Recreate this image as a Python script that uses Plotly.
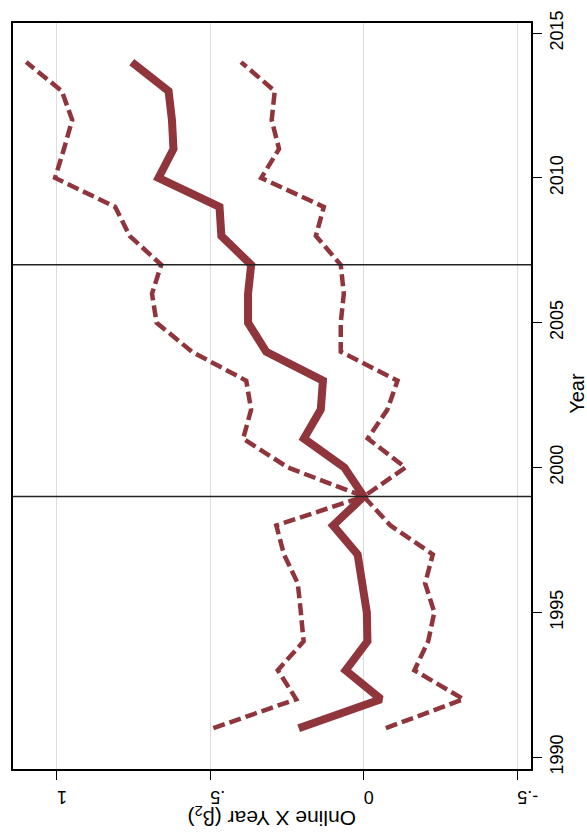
import plotly.graph_objects as go

# Year-by-year interaction coefficients with 95% confidence bounds
years = list(range(1991, 2015))
coef = [0.212, -0.056, 0.059, -0.012, -0.010, 0.003, 0.020, 0.100, 0.000, 0.063,
        0.195, 0.140, 0.133, 0.318, 0.377, 0.377, 0.367, 0.464, 0.470, 0.669,
        0.620, 0.625, 0.636, 0.756]
upper = [0.490, 0.220, 0.280, 0.196, 0.205, 0.215, 0.260, 0.285, 0.000, 0.247,
         0.393, 0.367, 0.383, 0.560, 0.675, 0.690, 0.660, 0.763, 0.810, 1.006,
         0.977, 0.950, 0.984, 1.100]
lower = [-0.072, -0.325, -0.165, -0.210, -0.230, -0.200, -0.225, -0.087, 0.000, -0.136,
         -0.013, -0.077, -0.110, 0.075, 0.075, 0.065, 0.075, 0.156, 0.130, 0.334,
         0.276, 0.300, 0.290, 0.400]

value_ticks = [1, 0.5, 0, -0.5]
value_tick_text = ["1", ".5", "0", "-.5"]
year_ticks = [1990, 1995, 2000, 2005, 2010, 2015]
ref_years = [1999, 2007]

color = "#90353B"
font = "Liberation Sans, Arial, sans-serif"

fig = go.Figure()
for bound in (upper, lower):
    fig.add_trace(go.Scatter(x=bound, y=years, mode="lines",
                             line=dict(color=color, width=4.5, dash="12px,5px"),
                             showlegend=False, hoverinfo="skip"))
fig.add_trace(go.Scatter(x=coef, y=years, mode="lines",
                         line=dict(color=color, width=8),
                         showlegend=False))

for yr in ref_years:
    fig.add_shape(type="line", xref="paper", x0=0, x1=1, yref="y", y0=yr, y1=yr,
                  line=dict(color="#222222", width=1.5), layer="above")

fig.update_layout(
    width=587, height=835,
    margin=dict(l=11, r=56, t=13, b=66),
    paper_bgcolor="white", plot_bgcolor="white",
    font=dict(family=font, size=18, color="black"),
    xaxis=dict(
        range=[1.143, -0.545], tickvals=value_ticks, ticktext=value_tick_text,
        tickangle=180, ticks="outside", ticklen=9, tickwidth=1.2, tickcolor="black",
        ticklabelstandoff=8,
        showgrid=True, gridcolor="#DCDCDC", gridwidth=1.2, zeroline=False,
        showline=True, linecolor="black", linewidth=1.5, mirror=True,
        tickfont=dict(size=18, family=font, color="black"),
    ),
    yaxis=dict(
        range=[1989.59, 2015.35], tickvals=year_ticks, side="right",
        tickangle=-90, ticks="outside", ticklen=9, tickwidth=1.2, tickcolor="black",
        showgrid=False, zeroline=False,
        showline=True, linecolor="black", linewidth=1.5, mirror=True,
        tickfont=dict(size=18, family=font, color="black"),
    ),
    annotations=[
        dict(text="Online X Year (β<sub>2</sub>)", textangle=180, showarrow=False,
             xref="paper", yref="paper", x=(271 - 11) / 520, y=-48 / 756,
             xanchor="center", yanchor="middle",
             font=dict(size=21, family=font, color="black")),
        dict(text="Year", textangle=-90, showarrow=False,
             xref="paper", yref="paper", x=1 + 46 / 520, y=(769 - 388) / 756,
             xanchor="center", yanchor="middle",
             font=dict(size=20, family=font, color="black")),
    ],
)

fig.write_html("out.html")
